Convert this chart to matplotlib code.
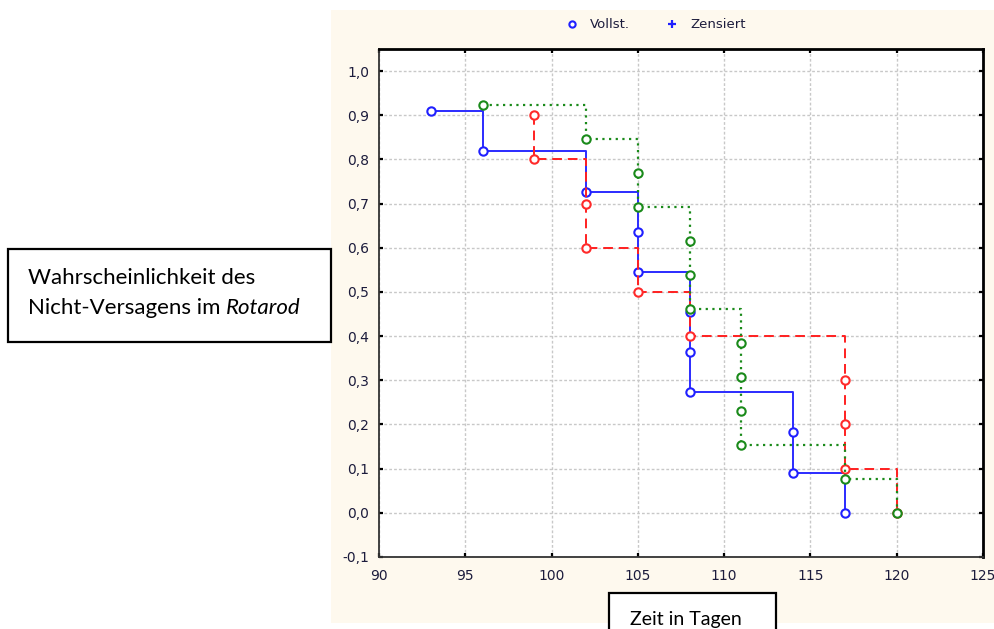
import matplotlib
matplotlib.use("Agg")
import matplotlib.pyplot as plt
from matplotlib.patches import Rectangle
from matplotlib.lines import Line2D
from matplotlib.ticker import MultipleLocator, FuncFormatter

# ------------------------------------------------------------
# Kaplan-Meier estimates per group (time in days, survival)
# ------------------------------------------------------------
blue_t = [93, 96, 102, 105, 105, 108, 108, 108, 114, 114, 117]
blue_s = [0.909, 0.818, 0.727, 0.636, 0.545, 0.455, 0.364, 0.273, 0.182, 0.091, 0.0]

red_t = [99, 99, 102, 102, 105, 108, 117, 117, 117, 120]
red_s = [0.9, 0.8, 0.7, 0.6, 0.5, 0.4, 0.3, 0.2, 0.1, 0.0]

green_t = [96, 102, 105, 105, 108, 108, 108, 111, 111, 111, 111, 117, 120]
green_s = [0.923, 0.846, 0.769, 0.692, 0.615, 0.538, 0.462,
           0.385, 0.308, 0.231, 0.154, 0.077, 0.0]

legend_labels = ["Vollst.", "Zensiert"]
x_label = "Zeit in Tagen"
y_label_1 = "Wahrscheinlichkeit des"
y_label_2 = "Nicht-Versagens im "
y_label_it = "Rotarod"

W, H = 995, 629
fig = plt.figure(figsize=(W / 100, H / 100), dpi=100)
fig.patch.set_facecolor("white")


def px(x, y):
    # pixel position (from top-left) -> figure fraction
    return x / W, 1 - y / H


# cream panel behind the plot
x0, y0 = px(331, 623)
fig.add_artist(Rectangle((x0, y0), 1 - x0, (623 - 10) / H,
                         transform=fig.transFigure, facecolor="#fef9ee",
                         edgecolor="none", zorder=0))

ax = fig.add_axes([379 / W, 1 - 557 / H, (983 - 379) / W, (557 - 49) / H])
ax.set_facecolor("white")
ax.set_zorder(1)

# ------------------------------------------------------------
# STEP CURVES
# ------------------------------------------------------------
ax.plot(blue_t, blue_s, drawstyle="steps-post", color="#2b2bff", lw=1.4,
        marker="o", ms=6, mfc="white", mec="#2020ff", mew=1.5, zorder=3)
ax.plot(red_t, red_s, drawstyle="steps-post", color="#ff2020", lw=1.4,
        linestyle=(0, (5, 3)), marker="o", ms=6, mfc="white",
        mec="#ff2a2a", mew=1.5, zorder=4)
ax.plot(green_t, green_s, drawstyle="steps-post", color="#1a8a1a", lw=1.6,
        linestyle=(0, (1, 2)), marker="o", ms=6, mfc="white",
        mec="#1a8a1a", mew=1.5, zorder=5)

# ------------------------------------------------------------
# AXES
# ------------------------------------------------------------
ax.set_xlim(90, 125)
ax.set_ylim(-0.1, 1.05)
ax.xaxis.set_major_locator(MultipleLocator(5))
ax.yaxis.set_major_locator(MultipleLocator(0.1))
ax.yaxis.set_major_formatter(
    FuncFormatter(lambda v, _: f"{v:.1f}".replace(".", ",").replace("-0,0", "0,0")))

ax.grid(True, color="#c8c8c8", lw=1.0, linestyle=(0, (2, 1.5)), zorder=0)
ax.set_axisbelow(True)

ax.tick_params(direction="in", length=3, width=1.6, top=True, right=True,
               labelsize=10, labelcolor="#1c1c3c")
ax.tick_params(axis="x", pad=9)
ax.tick_params(axis="y", pad=7)
for lab in ax.get_xticklabels() + ax.get_yticklabels():
    lab.set_family("DejaVu Sans")

for side in ["left", "bottom"]:
    ax.spines[side].set_color("#333333")
    ax.spines[side].set_linewidth(1.3)
for side in ["top", "right"]:
    ax.spines[side].set_color("black")
    ax.spines[side].set_linewidth(2.0)

# ------------------------------------------------------------
# LEGEND
# ------------------------------------------------------------
lx, ly = px(572, 24)
fig.add_artist(Line2D([lx], [ly], transform=fig.transFigure, marker="o",
                      ms=4.5, mfc="white", mec="#2020ff", mew=1.5, lw=0))
fig.text(*px(590, 24), legend_labels[0], fontsize=9.5, family="DejaVu Sans",
         color="#1c1c3c", va="center", ha="left")
lx, ly = px(672, 24)
fig.add_artist(Line2D([lx], [ly], transform=fig.transFigure, marker="+",
                      ms=6, mec="#2020ff", mew=1.6, lw=0))
fig.text(*px(690, 24), legend_labels[1], fontsize=9.5, family="DejaVu Sans",
         color="#1c1c3c", va="center", ha="left")

# ------------------------------------------------------------
# LABEL BOXES
# ------------------------------------------------------------
bx, by = px(8, 342)
fig.add_artist(Rectangle((bx, by), (331 - 8) / W, (342 - 249) / H,
                         transform=fig.transFigure, facecolor="white",
                         edgecolor="black", lw=1.6, zorder=2))
fig.text(*px(28, 284), y_label_1, fontsize=16, family="Lato", color="black",
         va="baseline", ha="left", zorder=3)
t2 = fig.text(*px(28, 314), y_label_2, fontsize=16, family="Lato",
              color="black", va="baseline", ha="left", zorder=3)
renderer = fig.canvas.get_renderer()
bb = t2.get_window_extent(renderer)
fig.text(bb.x1 / W, 1 - 314 / H, y_label_it, fontsize=16, family="Lato",
         style="italic", color="black", va="baseline", ha="left", zorder=3)

bx, by = px(609, 640)
fig.add_artist(Rectangle((bx, by), (776 - 609) / W, (640 - 593) / H,
                         transform=fig.transFigure, facecolor="white",
                         edgecolor="black", lw=1.6, zorder=2))
fig.text(*px(686, 625), x_label, fontsize=14, family="Lato", color="black",
         va="baseline", ha="center", zorder=3)

fig.savefig("out.png", dpi=100, facecolor=fig.get_facecolor())
